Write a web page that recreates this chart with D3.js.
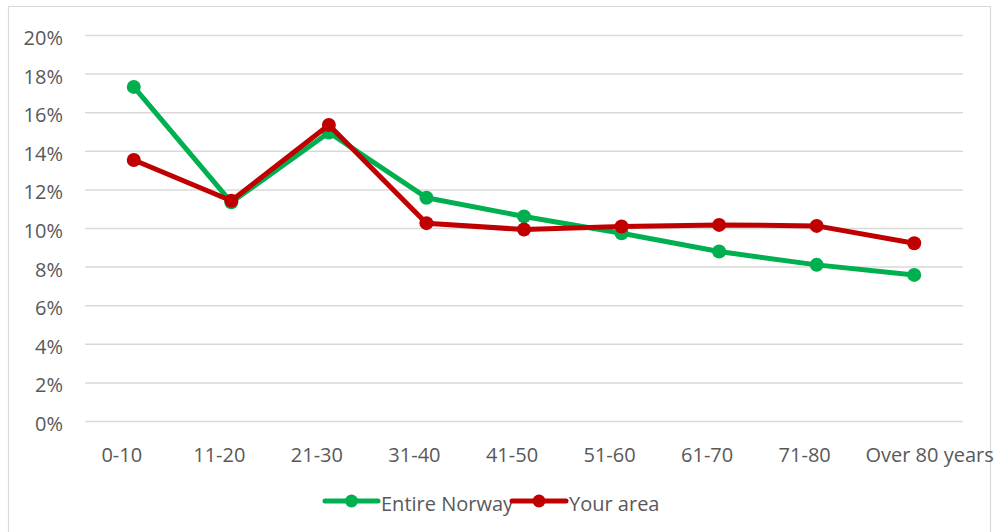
<!DOCTYPE html>
<html>
<head>
<meta charset="utf-8">
<script src="https://cdn.jsdelivr.net/npm/d3@7/dist/d3.min.js"></script>
<style>
  html, body { margin: 0; padding: 0; background: #ffffff; }
  svg { display: block; }
  text { font-family: "Open Sans", "Noto Sans", sans-serif; fill: #595959; }
</style>
</head>
<body>
<svg id="chart" width="994" height="532"></svg>
<script>
const categories = ["0-10", "11-20", "21-30", "31-40", "41-50", "51-60", "61-70", "71-80", "Over 80 years"];
const entireNorway = [17.31, 11.33, 14.95, 11.57, 10.60, 9.73, 8.78, 8.09, 7.57];
const yourArea = [13.52, 11.41, 15.34, 10.25, 9.92, 10.08, 10.16, 10.11, 9.21];
const yTicks = [0, 2, 4, 6, 8, 10, 12, 14, 16, 18, 20];
const seriesNames = ["Entire Norway", "Your area"];
const seriesColors = ["#00B050", "#C00000"];

const series = [
  { name: seriesNames[0], color: seriesColors[0], values: entireNorway },
  { name: seriesNames[1], color: seriesColors[1], values: yourArea }
];

const svg = d3.select("#chart");
const W = 994, H = 532;
const plot = { left: 85, right: 963, top: 35, bottom: 421 };

// outer frame
svg.append("path")
  .attr("d", `M8.5,${H} V6.5 H990.5 V${H}`)
  .attr("fill", "none")
  .attr("stroke", "#d9d9d9")
  .attr("stroke-width", 1.2);

const x = d3.scaleBand().domain(categories).range([plot.left, plot.right]).padding(0);
const y = d3.scaleLinear().domain([0, 20]).range([plot.bottom, plot.top]);

// gridlines + y labels
const yAxis = d3.axisLeft(y).tickValues(yTicks)
  .tickSize(-(plot.right - plot.left))
  .tickPadding(22)
  .tickFormat(d => d + "%");
const gy = svg.append("g").attr("transform", `translate(${plot.left},0)`).call(yAxis);
gy.select(".domain").remove();
gy.selectAll(".tick line").attr("stroke", "#d9d9d9").attr("stroke-width", 1.5);
gy.selectAll(".tick text")
  .attr("font-size", 20)
  .attr("fill", "#595959")
  .style("font-family", '"Open Sans", "Noto Sans", sans-serif')
  .attr("y", 2.5)
  .attr("dy", "0.35em");

// x labels
const xAxis = d3.axisBottom(x).tickSize(0).tickPadding(0);
const gx = svg.append("g").attr("transform", `translate(0,${plot.bottom})`).call(xAxis);
gx.select(".domain").remove();
gx.selectAll(".tick text")
  .attr("font-size", 20)
  .attr("fill", "#595959")
  .style("font-family", '"Open Sans", "Noto Sans", sans-serif')
  .attr("y", 34)
  .attr("dy", "0.35em")
  .each(function(d, i) {
    const t = d3.select(this);
    if (i === categories.length - 1) {
      t.attr("text-anchor", "start").attr("x", -x.bandwidth() / 2);
    } else {
      t.attr("x", -12);
    }
  });

const cx = d => x(d) + x.bandwidth() / 2;
const line = d3.line().x((v, i) => cx(categories[i])).y(v => y(v));

series.forEach(s => {
  const g = svg.append("g");
  g.append("path")
    .attr("d", line(s.values))
    .attr("fill", "none")
    .attr("stroke", s.color)
    .attr("stroke-width", 5)
    .attr("stroke-linejoin", "round");
  g.selectAll("circle").data(s.values).enter().append("circle")
    .attr("cx", (v, i) => cx(categories[i]))
    .attr("cy", v => y(v))
    .attr("r", 7)
    .attr("fill", s.color);
});

// legend
const legendY = 501;
const legendItems = [
  { x0: 325, x1: 378, tx: 381 },
  { x0: 512, x1: 566, tx: 569 }
];
series.forEach((s, i) => {
  const L = legendItems[i];
  const g = svg.append("g");
  g.append("line")
    .attr("x1", L.x0).attr("x2", L.x1)
    .attr("y1", legendY).attr("y2", legendY)
    .attr("stroke", s.color).attr("stroke-width", 5).attr("stroke-linecap", "round");
  g.append("circle")
    .attr("cx", (L.x0 + L.x1) / 2).attr("cy", legendY).attr("r", 6.5)
    .attr("fill", s.color);
  g.append("text")
    .attr("x", L.tx).attr("y", legendY + 3).attr("dy", "0.35em")
    .attr("font-size", 20)
    .text(s.name);
});
</script>
</body>
</html>
